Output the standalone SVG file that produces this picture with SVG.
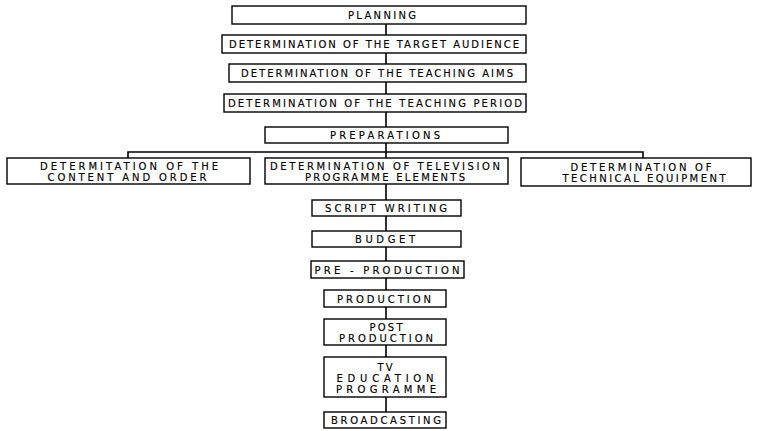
<svg xmlns="http://www.w3.org/2000/svg" width="758" height="431" viewBox="0 0 758 431">
<style>
.box{fill:#fff;stroke:#000;stroke-width:1.4}
.ln{fill:none;stroke:#000;stroke-width:1.6}
text{font-family:"DejaVu Sans","Liberation Sans",Arial,sans-serif;font-size:10px;fill:#000;stroke:#000;stroke-width:0.15;text-anchor:middle;dominant-baseline:central}
</style>
<rect width="758" height="431" fill="#fff"/>
<g id="connectors">
<path class="ln" d="M386 24V35M386 53V64M386 82V94M386 112V127M386 143V158M386 184V200M386 216V231M386 247V261M386 278V290M386 307V319M386 345V357M386 397V412"/>
<path class="ln" d="M128 158V152H643V158"/>
</g>
<g id="planning"><rect class="box" x="232" y="6" width="294" height="18"/><text x="382" y="15" textLength="68" lengthAdjust="spacing">PLANNING</text></g>
<g id="target"><rect class="box" x="222" y="35" width="304" height="18"/><text x="374" y="44" textLength="290" lengthAdjust="spacing">DETERMINATION OF THE TARGET AUDIENCE</text></g>
<g id="aims"><rect class="box" x="229" y="64" width="297" height="18"/><text x="377" y="73" textLength="272" lengthAdjust="spacing">DETERMINATION OF THE TEACHING AIMS</text></g>
<g id="period"><rect class="box" x="224" y="94" width="302" height="18"/><text x="375" y="103" textLength="294" lengthAdjust="spacing">DETERMINATION OF THE TEACHING PERIOD</text></g>
<g id="preparations"><rect class="box" x="265" y="127" width="243" height="16"/><text x="385" y="135" textLength="110" lengthAdjust="spacing">PREPARATIONS</text></g>
<g id="content"><rect class="box" x="7" y="158" width="243" height="26"/><text x="129" y="166" textLength="178" lengthAdjust="spacing">DETERMITATION OF THE</text><text x="127" y="177" textLength="159" lengthAdjust="spacing">CONTENT AND ORDER</text></g>
<g id="television"><rect class="box" x="265" y="158" width="243" height="26"/><text x="385" y="166" textLength="230" lengthAdjust="spacing">DETERMINATION OF TELEVISION</text><text x="385" y="177" textLength="160" lengthAdjust="spacing">PROGRAMME ELEMENTS</text></g>
<g id="technical"><rect class="box" x="521" y="158" width="230" height="28"/><text x="641" y="167" textLength="141" lengthAdjust="spacing">DETERMINATION OF</text><text x="644" y="178" textLength="163" lengthAdjust="spacing">TECHNICAL EQUIPMENT</text></g>
<g id="script"><rect class="box" x="312" y="200" width="149" height="16"/><text x="386" y="208" textLength="122" lengthAdjust="spacing">SCRIPT WRITING</text></g>
<g id="budget"><rect class="box" x="312" y="231" width="149" height="16"/><text x="385" y="239" textLength="60" lengthAdjust="spacing">BUDGET</text></g>
<g id="preproduction"><rect class="box" x="311" y="261" width="153" height="17"/><text x="387" y="270" textLength="145" lengthAdjust="spacing">PRE - PRODUCTION</text></g>
<g id="production"><rect class="box" x="324" y="290" width="122" height="17"/><text x="384" y="299" textLength="94" lengthAdjust="spacing">PRODUCTION</text></g>
<g id="postproduction"><rect class="box" x="324" y="319" width="122" height="26"/><text x="386" y="327" textLength="33" lengthAdjust="spacing">POST</text><text x="386" y="338" textLength="94" lengthAdjust="spacing">PRODUCTION</text></g>
<g id="tvprogramme"><rect class="box" x="324" y="357" width="122" height="40"/><text x="385" y="367" textLength="15" lengthAdjust="spacing">TV</text><text x="385" y="378" textLength="97" lengthAdjust="spacing">EDUCATION</text><text x="386" y="389" textLength="100" lengthAdjust="spacing">PROGRAMME</text></g>
<g id="broadcasting"><rect class="box" x="324" y="412" width="122" height="16"/><text x="386" y="420" textLength="110" lengthAdjust="spacing">BROADCASTING</text></g>
</svg>
